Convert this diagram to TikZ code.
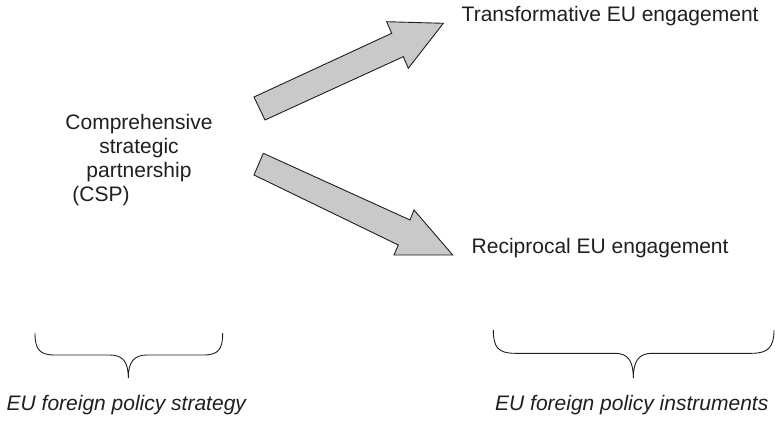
\documentclass[tikz,border=0pt]{standalone}
\usepackage{fontspec}
\setmainfont{Liberation Sans}
\begin{document}
\begin{tikzpicture}[x=1pt,y=-1pt,
  lbl/.style={font=\fontsize{21}{24}\selectfont, text=black!88, inner sep=0pt},
  itlbl/.style={lbl, font=\fontsize{21}{24}\selectfont\itshape},
  blockarrow/.style={fill=black!21, draw=black!88, line width=0.9pt, line join=miter},
  bracepath/.style={draw=black!88, line width=0.9pt}]
\useasboundingbox (0,0) rectangle (775,422);

% texts
\node[lbl, anchor=base west] (trans) at (461.5,21.7) {Transformative EU engagement};
\node[lbl, anchor=base west] (recip) at (471.5,253.3) {Reciprocal EU engagement};
\node[lbl, anchor=base, align=center] (csp) at (139,201.7)
  {Comprehensive\\strategic\\partnership\\(CSP)\hspace*{76pt}};
\node[itlbl, anchor=base west] (strat) at (6.5,410) {EU foreign policy strategy};
\node[itlbl, anchor=base west] (instr) at (495,410) {EU foreign policy instruments};

% block arrows
\draw[blockarrow] (254,97) -- (391.7,33.3) -- (386.7,21.7) -- (443.3,23.3)
  -- (408.3,68.3) -- (403.3,56.7) -- (265,120) -- cycle;
\draw[blockarrow] (263.3,153.3) -- (410,220) -- (414,210) -- (452.7,255)
  -- (394,255) -- (398.3,245) -- (254,175) -- cycle;

% braces
\draw[bracepath] (35,333) .. controls (35,350) and (40,355) .. (55,355)
  -- (110,355) .. controls (123,355) and (128.3,362) .. (128.3,378)
  .. controls (128.3,362) and (134,355) .. (147,355)
  -- (203,355) .. controls (218,355) and (222.7,350) .. (222.7,333);
\draw[bracepath] (493.3,330) .. controls (493.3,347) and (498,353.3) .. (515,353.3)
  -- (615,353.3) .. controls (628,353.3) and (633.3,361) .. (633.3,378)
  .. controls (633.3,361) and (639,353.3) .. (652,353.3)
  -- (752,353.3) .. controls (768,353.3) and (774,347) .. (774,330);
\end{tikzpicture}
\end{document}
